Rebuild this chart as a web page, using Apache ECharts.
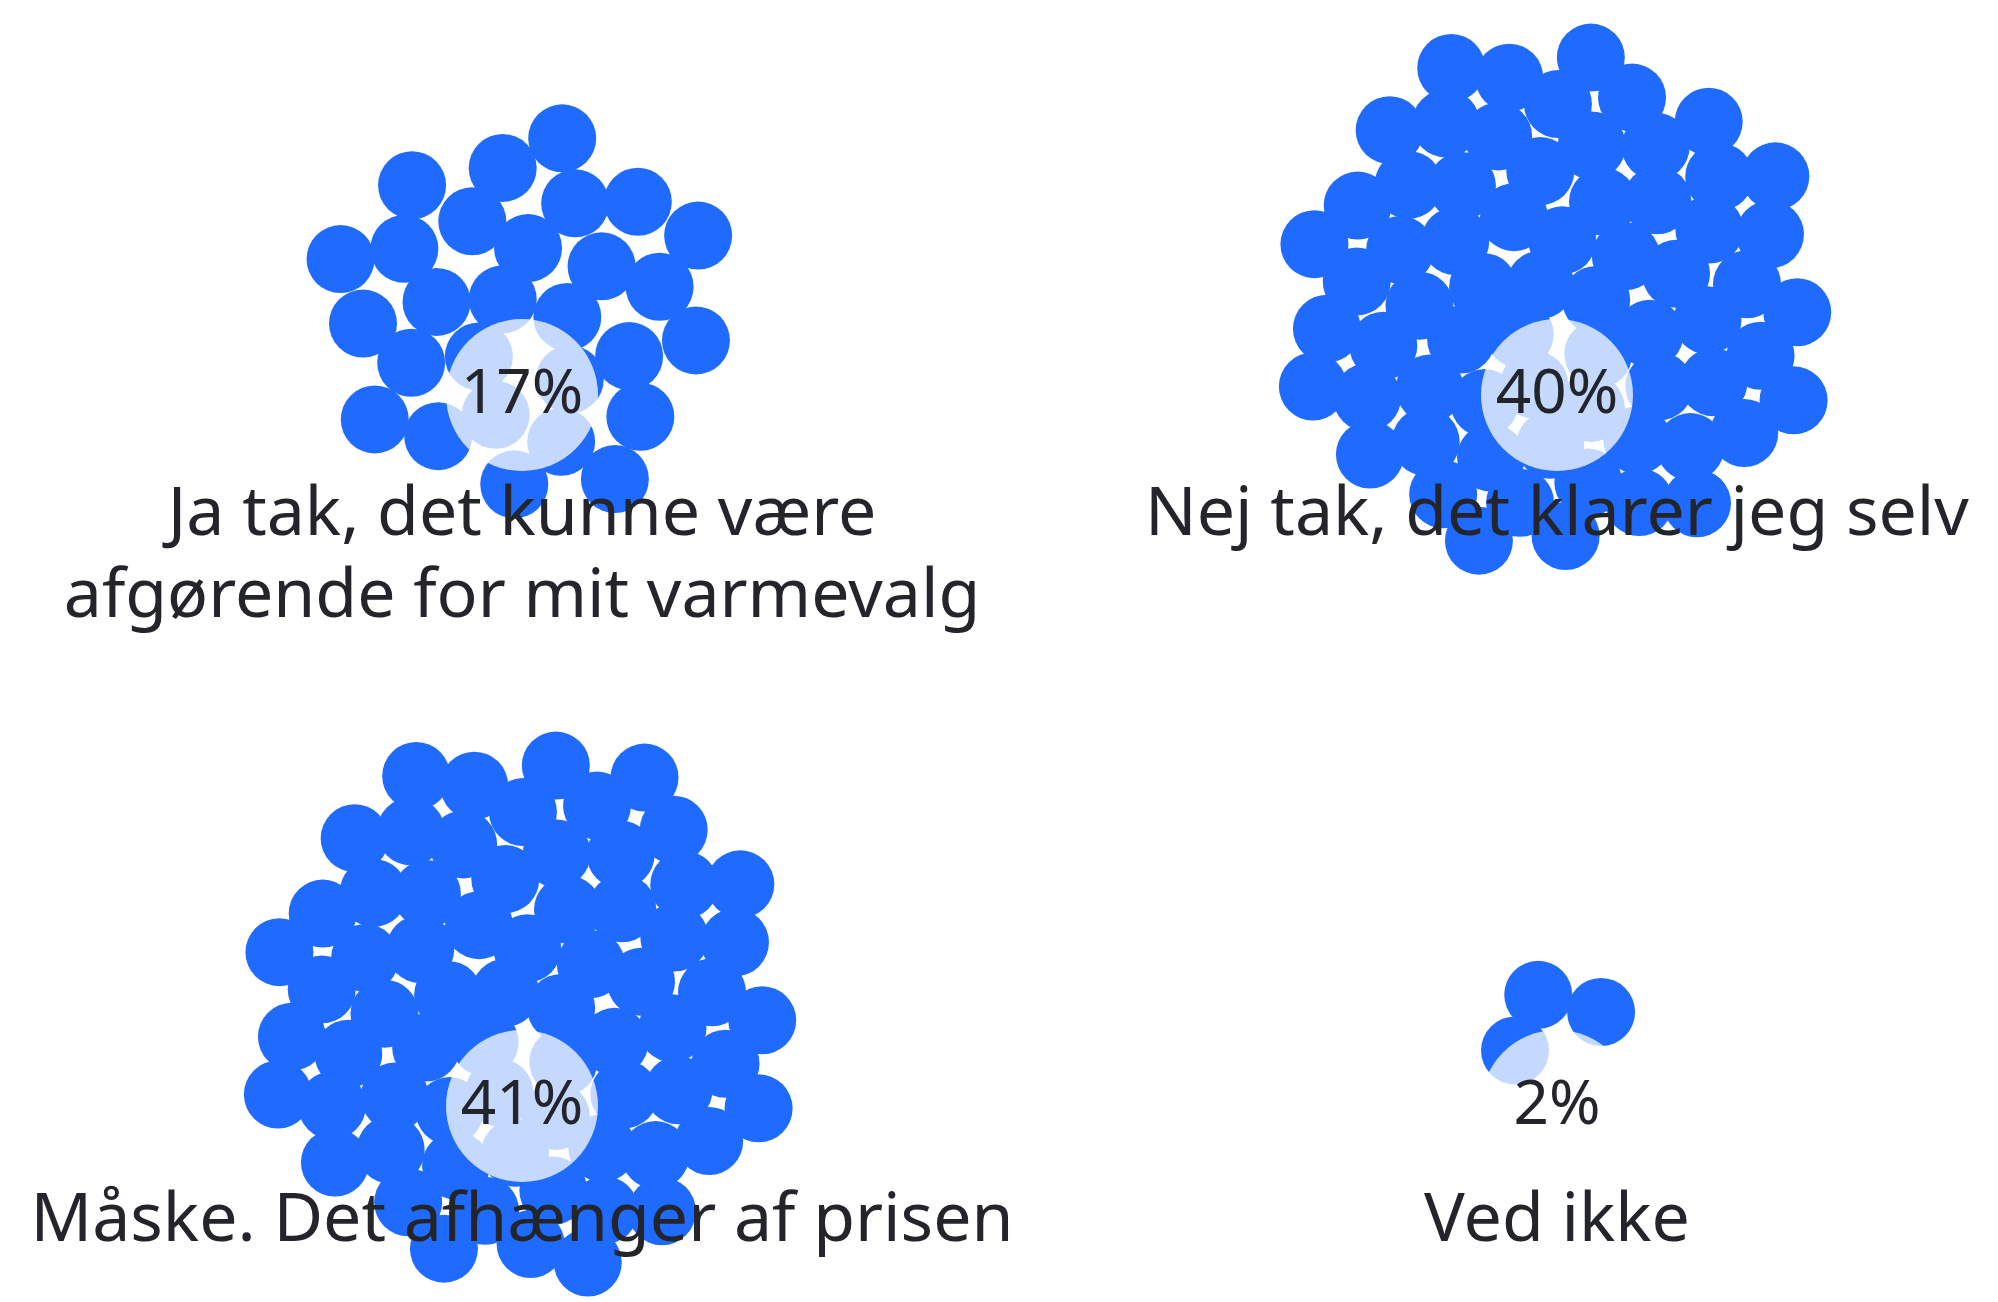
<!DOCTYPE html>
<html>
<head>
<meta charset="utf-8">
<script src="https://cdn.jsdelivr.net/npm/echarts@6/dist/echarts.min.js"></script>
<style>
html,body{margin:0;padding:0;background:#ffffff;}
#chart{width:1998px;height:1302px;}
</style>
</head>
<body>
<div id="chart"></div>
<script>
// ---- data ----
const categories = [
  'Ja tak, det kunne være\nafgørende for mit varmevalg',
  'Nej tak, det klarer jeg selv',
  'Måske. Det afhænger af prisen',
  'Ved ikke'
];
const percentages = [17, 40, 41, 2];
const dotCounts = [28, 66, 68, 3];

// ---- layout (panel anchors in pixel space) ----
const panelX = [522, 1557, 522, 1557];
const labelY = [395, 395, 1106, 1106];
const titleY = [557, 516, 1222, 1222];
const dotOffset = [78, 95, 98, 94];   // cluster centre above percentage label
const spacing = [37, 32, 32, 36];     // sunflower spacing per cluster
const GOLDEN = Math.PI * (3 - Math.sqrt(5));

function clusterDots(k) {
  const pts = [];
  const n = dotCounts[k];
  for (let i = 0; i < n; i++) {
    const r = spacing[k] * Math.sqrt(i + 0.5);
    const a = -GOLDEN + i * GOLDEN;
    pts.push([panelX[k] + r * Math.cos(a), labelY[k] - dotOffset[k] + r * Math.sin(a)]);
  }
  return pts;
}

const dotData = [];
categories.forEach((c, k) => { clusterDots(k).forEach(p => dotData.push(p)); });
const bubbleData = categories.map((c, k) => [panelX[k], labelY[k], percentages[k]]);
const titleData = categories.map((c, k) => ({ value: [panelX[k], titleY[k]], name: c }));

const FONT = '"Noto Sans", Lato, sans-serif';
const TEXT = '#23252b';

const chart = echarts.init(document.getElementById('chart'), null, { renderer: 'canvas' });
chart.setOption({
  animation: false,
  backgroundColor: '#ffffff',
  grid: { left: 0, right: 0, top: 0, bottom: 0 },
  xAxis: { type: 'value', min: 0, max: 1998, show: false },
  yAxis: { type: 'value', min: 0, max: 1302, inverse: true, show: false },
  series: [
    {
      name: 'dots', type: 'scatter', silent: true, z: 2,
      symbol: 'circle', symbolSize: 68,
      itemStyle: { color: '#1f6bff', opacity: 1 },
      data: dotData
    },
    {
      name: 'share', type: 'scatter', silent: true, z: 3,
      symbol: 'circle', symbolSize: 152,
      itemStyle: { color: 'rgba(255,255,255,0.74)', opacity: 1 },
      label: {
        show: true, position: 'inside',
        formatter: p => p.value[2] + '%',
        fontSize: 62, fontFamily: FONT, color: TEXT
      },
      data: bubbleData
    },
    {
      name: 'titles', type: 'scatter', silent: true, z: 4,
      symbol: 'circle', symbolSize: 1,
      itemStyle: { color: 'rgba(0,0,0,0)', opacity: 1 },
      label: {
        show: true, position: 'inside',
        formatter: p => p.name,
        fontSize: 68, lineHeight: 82, fontFamily: FONT, color: TEXT, align: 'center'
      },
      data: titleData
    }
  ]
});
</script>
</body>
</html>
